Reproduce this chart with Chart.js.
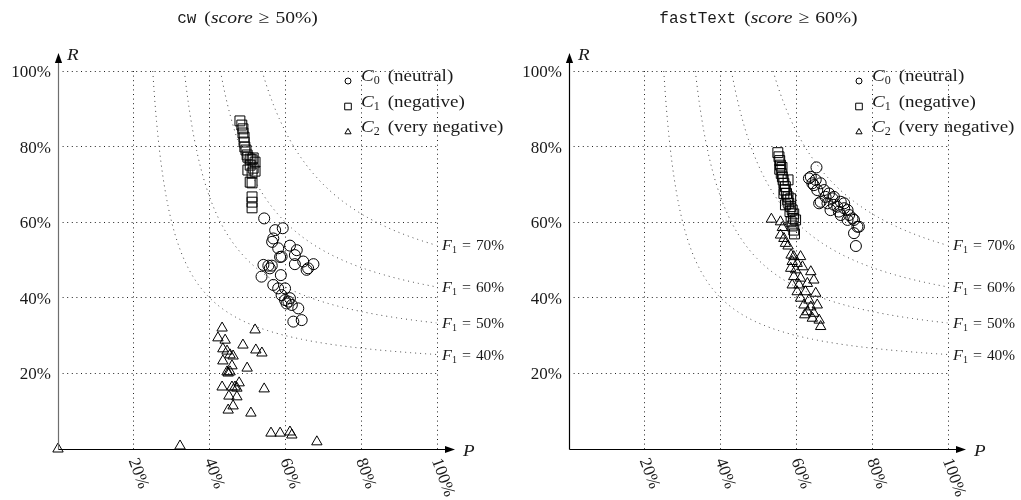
<!DOCTYPE html>
<html>
<head>
<meta charset="utf-8">
<script src="https://cdn.jsdelivr.net/npm/chart.js@4"></script>
<style>
  html, body { margin: 0; padding: 0; background: #fff; }
  #wrap { position: relative; width: 1021px; height: 500px; }
  .pane { position: absolute; top: 0; width: 510px; height: 500px; }
</style>
</head>
<body>
<div id="wrap">
  <div class="pane" style="left:0"><canvas id="cw" width="510" height="500"></canvas></div>
  <div class="pane" style="left:511px"><canvas id="ft" width="510" height="500"></canvas></div>
</div>
<script>
// axis ticks (percent) and F1 iso-lines
const tickValues = [20, 40, 60, 80, 100];
const f1Levels = [40, 50, 60, 70];

// class labels: subscript index, description
const classIds = ['0', '1', '2'];
const classNames = ['(neutral)', '(negative)', '(very negative)'];

// cw (score >= 50%) -- [P, R] in percent
const cwNeutral = [
  [54.4, 61.0], [57.3, 57.9], [59.3, 58.4], [56.8, 55.7], [56.5, 54.8], [58.1, 53.1], [61.2, 53.8],
  [63.0, 52.6], [59.0, 50.9], [58.6, 50.8], [62.5, 51.3], [62.5, 48.9], [64.7, 49.6], [67.4, 48.9],
  [66.0, 47.8], [65.6, 47.4], [54.2, 48.7], [55.5, 48.5], [56.4, 48.5], [55.9, 47.8], [53.7, 45.6],
  [58.8, 46.0], [56.8, 43.4], [58.1, 42.5], [59.9, 42.5], [59.0, 40.7], [59.9, 39.4], [60.8, 39.0],
  [61.2, 39.9], [60.3, 38.5], [61.7, 38.1], [63.4, 37.2], [62.1, 33.7], [64.3, 34.1]
];
const cwNegative = [
  [48.0, 86.8], [48.5, 85.7], [48.8, 84.7], [48.8, 83.6], [49.1, 82.5], [49.1, 81.2], [49.3, 79.9],
  [49.6, 79.1], [49.9, 77.8], [50.1, 77.2], [50.7, 76.7], [51.2, 76.5], [51.5, 77.0], [52.0, 75.9],
  [50.7, 75.1], [51.5, 74.3], [50.1, 73.8], [51.2, 73.0], [52.0, 73.5], [50.7, 70.6], [51.2, 70.4],
  [51.2, 66.7], [51.2, 65.3], [51.2, 63.8]
];
const cwVeryNegative = [
  [43.3, 32.0], [52.0, 31.5], [42.2, 29.4], [44.1, 28.8], [48.8, 27.5], [43.5, 26.5], [44.6, 25.9],
  [52.2, 26.2], [53.8, 25.4], [45.4, 24.9], [46.2, 24.6], [43.5, 23.3], [45.9, 22.0], [49.9, 21.4],
  [44.6, 20.4], [45.4, 20.4], [44.9, 20.1], [43.3, 16.4], [45.9, 16.4], [46.7, 16.4], [47.8, 17.5],
  [47.2, 16.1], [54.4, 15.9], [45.1, 14.0], [47.2, 13.8], [46.2, 11.4], [44.9, 10.3], [50.9, 9.5],
  [56.2, 4.2], [58.6, 4.2], [61.2, 4.5], [61.7, 3.7], [68.3, 1.9], [32.2, 0.8], [0, 0]
];

// fastText (score >= 60%) -- [P, R] in percent
const ftNeutral = [
  [65.3, 74.5], [63.8, 72.0], [63.3, 71.6], [65.1, 71.2], [64.6, 69.8], [64.2, 70.3], [66.4, 70.3],
  [65.5, 68.5], [67.3, 68.5], [68.6, 67.6], [67.7, 66.7], [69.5, 66.3], [66.4, 65.4], [66.0, 65.0],
  [68.2, 65.0], [69.9, 64.6], [69.9, 66.7], [71.7, 65.4], [72.6, 65.0], [70.8, 64.1], [69.0, 63.2],
  [72.6, 63.7], [73.5, 63.2], [71.2, 62.8], [71.7, 61.9], [73.9, 61.9], [74.8, 61.0], [75.2, 60.6],
  [73.5, 60.6], [76.1, 58.8], [76.5, 58.8], [75.2, 57.1], [75.7, 53.7]
];
const ftNegative = [
  [55.1, 78.4], [55.4, 77.3], [55.6, 76.3], [55.8, 75.1], [55.6, 74.0], [56.2, 74.5], [56.0, 72.9],
  [56.3, 72.0], [56.5, 71.2], [57.8, 71.2], [56.7, 70.3], [57.1, 69.4], [56.9, 68.5], [57.4, 67.6],
  [56.7, 67.6], [57.8, 66.7], [58.5, 66.2], [57.6, 65.9], [58.0, 65.0], [57.1, 64.6], [58.5, 64.1],
  [58.9, 63.2], [58.3, 62.8], [59.3, 62.2], [59.2, 61.0], [59.8, 60.6], [58.6, 60.1], [58.9, 59.0],
  [59.3, 57.9], [59.5, 56.9]
];
const ftVeryNegative = [
  [53.4, 60.8], [55.8, 60.1], [56.3, 58.6], [55.8, 56.6], [56.7, 55.7], [57.1, 54.4], [57.8, 53.7],
  [58.6, 51.3], [59.3, 50.9], [61.1, 50.9], [58.9, 49.6], [60.2, 49.1], [58.5, 47.8], [59.8, 47.4],
  [61.6, 48.2], [63.8, 46.9], [59.3, 45.6], [61.1, 45.2], [64.6, 44.7], [58.9, 43.4], [60.7, 43.4],
  [62.9, 43.8], [60.2, 41.6], [62.4, 41.6], [65.1, 41.2], [61.1, 39.9], [63.3, 39.4], [62.0, 38.1],
  [63.8, 37.6], [65.5, 38.1], [62.9, 36.3], [64.6, 35.9], [62.2, 35.5], [64.2, 34.6], [66.0, 34.1],
  [66.4, 32.4]
];

const SERIF = '"Liberation Serif", "Times New Roman", serif';
const MONO = '"Liberation Mono", "DejaVu Sans Mono", monospace';
const TEXT = '#1a1a1a';
const STRETCH = 1.12;   // widen Times-like glyphs toward Computer Modern

const panels = [
  { id: 'cw', method: 'cw', threshold: '50%', yAxisColor: '#6e6e6e',
    series: [cwNeutral, cwNegative, cwVeryNegative] },
  { id: 'ft', method: 'fastText', threshold: '60%', yAxisColor: '#000',
    series: [ftNeutral, ftNegative, ftVeryNegative] }
];

const pointStyles = ['circle', 'rect', 'triangle'];
const pointRadii = [5.5, 7, 6];

// parts: [text, font, dy, gapAfter, stretch]
function drawRich(ctx, parts, x, y, align) {
  let total = 0;
  parts.forEach(p => {
    ctx.font = p[1];
    total += ctx.measureText(p[0]).width * (p[4] || 1) + (p[3] || 0);
  });
  let cx = align === 'center' ? x - total / 2 : x;
  ctx.textAlign = 'left';
  ctx.textBaseline = 'alphabetic';
  parts.forEach(p => {
    const s = p[4] || 1;
    ctx.font = p[1];
    ctx.save();
    ctx.translate(cx, y + (p[2] || 0));
    ctx.scale(s, 1);
    ctx.fillText(p[0], 0, 0);
    ctx.restore();
    cx += ctx.measureText(p[0]).width * s + (p[3] || 0);
  });
}

function legendMarker(ctx, kind, x, y) {
  ctx.beginPath();
  if (kind === 0) {
    ctx.arc(x, y, 3, 0, Math.PI * 2);
  } else if (kind === 1) {
    ctx.rect(x - 3.3, y - 3.3, 6.6, 6.6);
  } else {
    ctx.moveTo(x, y - 3.6);
    ctx.lineTo(x + 3.1, y + 1.8);
    ctx.lineTo(x - 3.1, y + 1.8);
    ctx.closePath();
  }
  ctx.stroke();
}

const f1Curves = {
  id: 'f1Curves',
  beforeDatasetsDraw(chart) {
    const ctx = chart.ctx;
    const xs = chart.scales.x, ys = chart.scales.y;
    ctx.save();
    ctx.strokeStyle = '#444';
    ctx.lineWidth = 1;
    ctx.setLineDash([1, 4]);
    f1Levels.forEach(f => {
      const p0 = 100 * f / (200 - f);
      ctx.beginPath();
      for (let p = p0; p <= 100.001; p += 0.25) {
        const r = f * p / (2 * p - f);
        const px = xs.getPixelForValue(p), py = ys.getPixelForValue(r);
        if (p === p0) ctx.moveTo(px, py); else ctx.lineTo(px, py);
      }
      ctx.stroke();
    });
    ctx.restore();
  }
};

const decorations = {
  id: 'decorations',
  afterDraw(chart, args, opts) {
    const ctx = chart.ctx;
    const a = chart.chartArea;
    const xs = chart.scales.x, ys = chart.scales.y;
    const x0 = Math.round(a.left) + 0.5, y0 = Math.round(a.bottom) + 0.5;
    ctx.save();

    // y axis with arrow
    ctx.lineWidth = 1.2;
    ctx.strokeStyle = opts.yAxisColor;
    ctx.beginPath(); ctx.moveTo(x0, y0); ctx.lineTo(x0, a.top - 12); ctx.stroke();
    ctx.fillStyle = '#000';
    ctx.beginPath();
    ctx.moveTo(x0, a.top - 18); ctx.lineTo(x0 + 3.6, a.top - 8); ctx.lineTo(x0 - 3.6, a.top - 8);
    ctx.closePath(); ctx.fill();

    // x axis with arrow
    ctx.strokeStyle = '#000';
    ctx.beginPath(); ctx.moveTo(x0, y0); ctx.lineTo(a.right + 10, y0); ctx.stroke();
    ctx.beginPath();
    ctx.moveTo(a.right + 18, y0); ctx.lineTo(a.right + 8, y0 - 3.6); ctx.lineTo(a.right + 8, y0 + 3.6);
    ctx.closePath(); ctx.fill();

    ctx.fillStyle = TEXT;
    // axis names
    drawRich(ctx, [['R', 'italic 17px ' + SERIF, 0, 0, STRETCH]], a.left + 9, a.top - 11, 'left');
    drawRich(ctx, [['P', 'italic 17px ' + SERIF, 0, 0, STRETCH]], a.right + 26, y0 + 6, 'left');

    // y tick labels
    ctx.font = '17px ' + SERIF;
    ctx.textAlign = 'right';
    ctx.textBaseline = 'alphabetic';
    tickValues.forEach(v => {
      ctx.fillText(v + '%', a.left - 7, ys.getPixelForValue(v) + 6);
    });

    // x tick labels, rotated downwards
    tickValues.forEach(v => {
      ctx.save();
      ctx.translate(xs.getPixelForValue(v) - 1, a.bottom + 10);
      ctx.rotate(70 * Math.PI / 180);
      ctx.textAlign = 'left';
      ctx.textBaseline = 'middle';
      ctx.fillText(v + '%', 0, 0);
      ctx.restore();
    });

    // F1 labels at the right end of the curves
    f1Levels.forEach(f => {
      const r = f / (200 - f) * 100;
      const py = ys.getPixelForValue(r) + 5;
      drawRich(ctx, [
        ['F', 'italic 14.5px ' + SERIF, 0, 0, STRETCH],
        ['1', '10px ' + SERIF, 3, 5],
        ['=', '14.5px ' + SERIF, 0, 5, 1.1],
        [f + '%', '14.5px ' + SERIF, 0, 0, 1.06]
      ], a.right + 5, py, 'left');
    });

    // legend
    ctx.strokeStyle = '#000';
    ctx.lineWidth = 1;
    classIds.forEach((c, i) => {
      const base = a.top + 10 + i * 25.5;
      legendMarker(ctx, i, a.right - 89, base);
      drawRich(ctx, [
        ['C', 'italic 17px ' + SERIF, 0, 0, STRETCH],
        [c, '12px ' + SERIF, 3, 8],
        [classNames[i], '17px ' + SERIF, 0, 0, STRETCH]
      ], a.right - 76, base, 'left');
    });

    // title
    drawRich(ctx, [
      [opts.method, '16px ' + MONO, 0, 8],
      ['(', '17.5px ' + SERIF, 0, 0, STRETCH],
      ['score', 'italic 17.5px ' + SERIF, 0, 6, STRETCH],
      ['\u2265', '17.5px ' + SERIF, 0, 6, STRETCH],
      [opts.threshold, '17.5px ' + SERIF, 0, 0, STRETCH],
      [')', '17.5px ' + SERIF, 0, 0, STRETCH]
    ], (a.left + a.right) / 2, 23, 'center');

    ctx.restore();
  }
};

function gridColor(c) {
  return c.tick && c.tick.value === 0 ? 'rgba(0,0,0,0)' : '#222';
}

panels.forEach(panel => {
  const ctx = document.getElementById(panel.id).getContext('2d');
  new Chart(ctx, {
    type: 'scatter',
    data: {
      datasets: panel.series.map((pts, i) => ({
        label: 'C' + classIds[i] + ' ' + classNames[i],
        data: pts.map(p => ({ x: p[0], y: p[1] })),
        pointStyle: pointStyles[i],
        pointRadius: pointRadii[i],
        pointBorderWidth: 1,
        pointBorderColor: '#000',
        pointBackgroundColor: 'rgba(0,0,0,0)',
        clip: false
      }))
    },
    options: {
      responsive: false,
      animation: false,
      events: [],
      layout: { autoPadding: false, padding: { left: 58, right: 73, top: 71, bottom: 51 } },
      scales: {
        x: {
          type: 'linear', min: 0, max: 100,
          ticks: { display: false, stepSize: 20 },
          grid: { color: gridColor, lineWidth: 1, drawTicks: false },
          border: { display: false, dash: [1, 3.6] }
        },
        y: {
          type: 'linear', min: 0, max: 100,
          ticks: { display: false, stepSize: 20 },
          grid: { color: gridColor, lineWidth: 1, drawTicks: false },
          border: { display: false, dash: [1, 3.6] }
        }
      },
      plugins: {
        legend: { display: false },
        title: { display: false },
        tooltip: { enabled: false },
        decorations: { method: panel.method, threshold: panel.threshold, yAxisColor: panel.yAxisColor }
      }
    },
    plugins: [f1Curves, decorations]
  });
});
</script>
</body>
</html>
